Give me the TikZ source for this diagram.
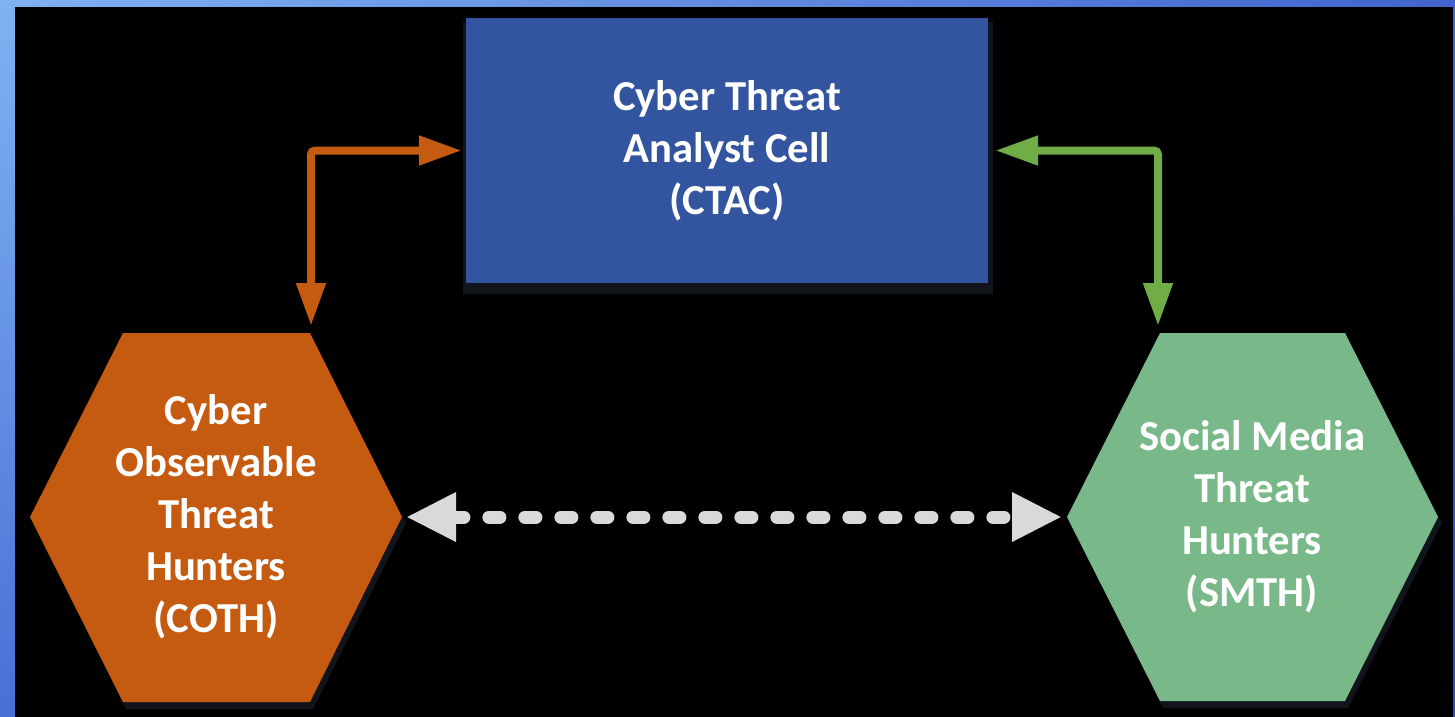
\documentclass[tikz,border=0pt]{standalone}
\usepackage{fontspec}
\setmainfont{Carlito}
\usetikzlibrary{arrows.meta,shadings}
\definecolor{ctacblue}{RGB}{51,85,160}
\definecolor{cothorange}{RGB}{197,90,17}
\definecolor{smthgreen}{RGB}{121,185,137}
\definecolor{linkgreen}{RGB}{112,173,71}
\definecolor{linkgray}{RGB}{217,217,217}
\definecolor{shadowgray}{RGB}{17,20,27}
\definecolor{frametl}{RGB}{128,178,242}
\definecolor{frametr}{RGB}{66,100,204}
\definecolor{framebl}{RGB}{72,112,214}
\definecolor{framebr}{RGB}{50,72,184}

\begin{document}
\begin{tikzpicture}[x=1pt, y=-1pt,
    celltext/.style={text=white, font=\fontsize{42.7}{52}\selectfont\bfseries, align=center},
    box/.style={rectangle, fill=ctacblue, minimum width=522pt, minimum height=265pt, celltext},
    link/.style={line width=8pt, rounded corners=4pt, {Triangle[length=43pt,width=28pt]}-{Triangle[length=43pt,width=28pt]}},
    dotlink/.style={line width=13pt, linkgray, line cap=round, dash pattern=on 11pt off 25pt, {Triangle[length=50pt,width=46pt]}-{Triangle[length=50pt,width=46pt]}}
]
    \useasboundingbox (0,0) rectangle (1455,716);
    % Frame
    \shade[upper left=frametl, upper right=frametr, lower left=framebl, lower right=framebr] (0,0) rectangle (1455,716);
    \fill[black] (15,7) rectangle (1453,722);

    % CTAC cell
    \fill[shadowgray] (463,22) rectangle (993,294);
    \node[box] (ctac) at (727,150.5) {Cyber Threat\\Analyst Cell\\(CTAC)};

    % COTH hunters
    \fill[shadowgray] (33,523) -- (126,339) -- (313,339) -- (406,523) -- (313,709) -- (126,709) -- cycle;
    \fill[cothorange] (30,517) -- (123,333) -- (310,333) -- (402,517) -- (310,702) -- (123,702) -- cycle;
    \node[celltext] (coth) at (216,517) {Cyber\\Observable\\Threat\\Hunters\\(COTH)};

    % SMTH hunters
    \fill[shadowgray] (1070,523) -- (1163,339) -- (1348,339) -- (1442,523) -- (1348,708) -- (1163,708) -- cycle;
    \fill[smthgreen] (1067,517) -- (1160,333) -- (1345,333) -- (1438,517) -- (1345,701) -- (1160,701) -- cycle;
    \node[celltext] (smth) at (1252,517) {Social Media\\Threat\\Hunters\\(SMTH)};

    \coordinate (cothtop) at (311,326);
    \coordinate (smthtop) at (1158,326);
    \coordinate (cothtip) at (406,517);
    \coordinate (smthtip) at (1062,517);

    % Arrows
    \draw[link, cothorange, shorten <=4pt] (ctac.west) -| (cothtop);
    \draw[link, linkgreen, shorten <=7pt] (ctac.east) -| (smthtop);
    \draw[dotlink] (cothtip) -- (smthtip);
\end{tikzpicture}
\end{document}
